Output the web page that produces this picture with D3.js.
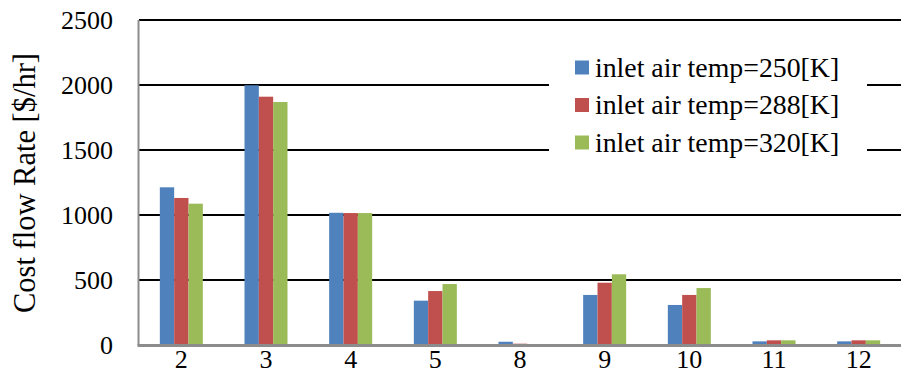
<!DOCTYPE html>
<html>
<head>
<meta charset="utf-8">
<script src="https://cdn.jsdelivr.net/npm/d3@7"></script>
<style>
  html, body { margin: 0; padding: 0; background: #fff; }
  svg { display: block; }
</style>
</head>
<body>
<svg id="chart" width="901" height="385"></svg>
<script>
// Cost flow rate per stream for three inlet air temperatures
const categories = ["2", "3", "4", "5", "8", "9", "10", "11", "12"];
const seriesNames = ["inlet air temp=250[K]", "inlet air temp=288[K]", "inlet air temp=320[K]"];
const temp250 = [1213, 1998, 1017, 341, 25, 385, 308, 28, 28];
const temp288 = [1131, 1910, 1015, 415, 10, 479, 385, 36, 36];
const temp320 = [1087, 1869, 1015, 469, 2, 544, 438, 36, 36];
const yTicks = [0, 500, 1000, 1500, 2000, 2500];
const colors = ["#4F81BD", "#C0504D", "#9BBB59"];

const series = [temp250, temp288, temp320];
const FONT = "'Liberation Serif', 'Times New Roman', Times, 'DejaVu Serif', serif";

const svg = d3.select("#chart");
const margin = { left: 139, right: 0, top: 20 };
const W = 901;
const plotBottom = 345;

const x = d3.scaleBand().domain(categories).range([margin.left, W - margin.right]).padding(0);
const y = d3.scaleLinear().domain([0, 2500]).range([plotBottom, margin.top]);

const groupW = x.bandwidth() * 0.508;
const xs = d3.scaleBand().domain(d3.range(series.length)).range([0, groupW]).padding(0);

// horizontal gridlines (zero line is drawn as the axis)
svg.append("g")
  .selectAll("line")
  .data(yTicks.filter(d => d > 0))
  .join("line")
  .attr("x1", margin.left).attr("x2", W - margin.right)
  .attr("y1", d => y(d)).attr("y2", d => y(d))
  .attr("stroke", "#000").attr("stroke-width", 2);

// bars
const groups = svg.append("g")
  .selectAll("g")
  .data(categories)
  .join("g")
  .attr("transform", d => `translate(${x(d) + (x.bandwidth() - groupW) / 2},0)`);

groups.selectAll("rect")
  .data((d, i) => series.map((s, k) => ({ k, v: s[i] })))
  .join("rect")
  .attr("x", d => xs(d.k))
  .attr("width", xs.bandwidth())
  .attr("y", d => y(d.v))
  .attr("height", d => plotBottom - y(d.v))
  .attr("fill", d => colors[d.k]);

// y axis line
svg.append("line")
  .attr("x1", margin.left - 0.5).attr("x2", margin.left - 0.5)
  .attr("y1", margin.top).attr("y2", plotBottom)
  .attr("stroke", "#8c8c8c").attr("stroke-width", 2);

// x axis baseline
svg.append("line")
  .attr("x1", margin.left - 1.5).attr("x2", W)
  .attr("y1", plotBottom + 0.5).attr("y2", plotBottom + 0.5)
  .attr("stroke", "#8c8c8c").attr("stroke-width", 3);

// y tick labels
const yAxis = d3.axisLeft(y).tickValues(yTicks).tickFormat(d3.format("d")).tickSize(0).tickPadding(0);
const yg = svg.append("g").attr("transform", "translate(113,0)").call(yAxis);
yg.attr("font-family", null).attr("font-size", null);
yg.select(".domain").remove();
yg.selectAll("text")
  .style("font-family", FONT)
  .style("font-size", "26px")
  .attr("fill", "#000")
  .attr("dy", "0.34em");

// x tick labels
const xAxis = d3.axisBottom(x).tickSize(0).tickPadding(0);
const xg = svg.append("g").attr("transform", `translate(0,${plotBottom + 4})`).call(xAxis);
xg.attr("font-family", null).attr("font-size", null);
xg.select(".domain").remove();
xg.selectAll("text")
  .style("font-family", FONT)
  .style("font-size", "26px")
  .attr("fill", "#000")
  .attr("dy", "0.74em");

// y axis title
svg.append("text")
  .attr("transform", "translate(35,183) rotate(-90)")
  .attr("text-anchor", "middle")
  .style("font-family", FONT)
  .style("font-size", "30.5px")
  .attr("fill", "#000")
  .text("Cost flow Rate [$/hr]");

// legend
const legend = svg.append("g");
legend.append("rect")
  .attr("x", 549).attr("y", 45).attr("width", 318).attr("height", 122)
  .attr("fill", "#fff");
const items = legend.selectAll("g.item")
  .data(seriesNames)
  .join("g")
  .attr("class", "item")
  .attr("transform", (d, i) => `translate(575,${67.5 + i * 37.5})`);
items.append("rect")
  .attr("x", 0).attr("y", -7).attr("width", 14).attr("height", 14)
  .attr("fill", (d, i) => colors[i]);
items.append("text")
  .attr("x", 20)
  .attr("dy", "0.34em")
  .style("font-family", FONT)
  .style("font-size", "27.8px")
  .attr("fill", "#000")
  .text(d => d);
</script>
</body>
</html>
